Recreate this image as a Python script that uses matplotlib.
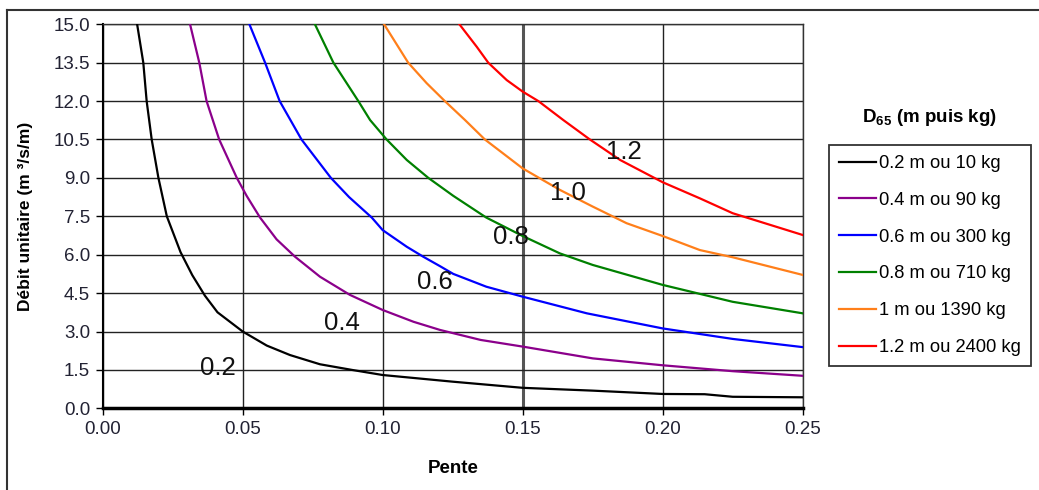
#! /usr/bin/env python

import matplotlib
matplotlib.use('Agg')
import matplotlib.pyplot as plt
import numpy as np
from matplotlib.lines import Line2D

plt.rcParams['font.family'] = ['Liberation Sans', 'DejaVu Sans']
plt.rcParams['mathtext.fontset'] = 'custom'
plt.rcParams['mathtext.rm'] = 'Liberation Sans'
plt.rcParams['mathtext.bf'] = 'Liberation Sans:bold'

# curves: pente (x) vs debit unitaire (y)
x_02 = [0.0123, 0.0145, 0.0157, 0.0175, 0.0199, 0.0229, 0.0278, 0.032, 0.0365,
        0.041, 0.050, 0.0586, 0.0669, 0.0776, 0.089, 0.100, 0.125, 0.150,
        0.175, 0.200, 0.215, 0.225, 0.250]
y_02 = [15.0, 13.5, 12.0, 10.5, 9.0, 7.5, 6.1, 5.2, 4.4,
        3.75, 3.0, 2.45, 2.08, 1.72, 1.50, 1.30, 1.04, 0.80,
        0.69, 0.56, 0.55, 0.45, 0.43]

x_04 = [0.0312, 0.0345, 0.0371, 0.0416, 0.0479, 0.0514, 0.0562, 0.0621, 0.0687,
        0.0776, 0.0883, 0.100, 0.111, 0.1205, 0.135, 0.150, 0.175, 0.200,
        0.225, 0.250]
y_04 = [15.0, 13.5, 12.0, 10.5, 9.0, 8.3, 7.45, 6.6, 5.92,
        5.14, 4.43, 3.84, 3.38, 3.06, 2.67, 2.41, 1.95, 1.68,
        1.45, 1.27]

x_06 = [0.0524, 0.058, 0.0632, 0.0710, 0.0815, 0.0880, 0.0961, 0.100, 0.1086,
        0.1145, 0.1205, 0.1252, 0.137, 0.150, 0.1729, 0.200, 0.225, 0.250]
y_06 = [15.0, 13.5, 12.0, 10.5, 9.0, 8.25, 7.45, 6.96, 6.31,
        5.92, 5.55, 5.25, 4.75, 4.36, 3.71, 3.12, 2.71, 2.39]

x_08 = [0.0758, 0.0824, 0.0913, 0.0955, 0.1014, 0.1086, 0.1163, 0.1252, 0.137,
        0.150, 0.1633, 0.175, 0.200, 0.225, 0.250]
y_08 = [15.0, 13.5, 12.0, 11.26, 10.5, 9.7, 9.0, 8.3, 7.45,
        6.73, 6.05, 5.60, 4.82, 4.16, 3.71]

x_10 = [0.1005, 0.1091, 0.1157, 0.1222, 0.1294, 0.1365, 0.150, 0.1633, 0.175,
        0.1871, 0.200, 0.2133, 0.225, 0.250]
y_10 = [15.0, 13.5, 12.7, 12.0, 11.26, 10.5, 9.37, 8.53, 7.88,
        7.23, 6.73, 6.18, 5.90, 5.21]

x_12 = [0.1274, 0.1336, 0.1377, 0.1443, 0.150, 0.1556, 0.1645, 0.174, 0.1848,
        0.200, 0.2133, 0.225, 0.250]
y_12 = [15.0, 14.12, 13.5, 12.82, 12.37, 12.0, 11.26, 10.5, 9.7,
        8.83, 8.2, 7.62, 6.77]

series = [
    (x_02, y_02, 'black', '0.2 m ou 10 kg'),
    (x_04, y_04, '#8b008b', '0.4 m ou 90 kg'),
    (x_06, y_06, '#0000ff', '0.6 m ou 300 kg'),
    (x_08, y_08, '#008000', '0.8 m ou 710 kg'),
    (x_10, y_10, '#ff7f1a', '1 m ou 1390 kg'),
    (x_12, y_12, '#ff0000', '1.2 m ou 2400 kg'),
]

# curve labels and where they sit
label_txt = ['0.2', '0.4', '0.6', '0.8', '1.0', '1.2']
label_x = [0.0412, 0.0855, 0.1187, 0.1458, 0.166, 0.186]
label_y = [1.57, 3.33, 4.93, 6.69, 8.40, 10.0]

xticks = [0.00, 0.05, 0.10, 0.15, 0.20, 0.25]
yticks = [0.0, 1.5, 3.0, 4.5, 6.0, 7.5, 9.0, 10.5, 12.0, 13.5, 15.0]

W, H = 1039, 490
figure = plt.figure(figsize=(W / 100, H / 100), dpi=100)
axes = figure.add_axes([102.7 / W, 1 - 408.3 / H, 700 / W, 384 / H])

for xs, ys, col, lab in series:
    axes.plot(xs, ys, color=col, lw=1.6, label=lab, zorder=3)

for t, lx, ly in zip(label_txt, label_x, label_y):
    axes.text(lx, ly, t, fontsize=18.5, ha='center', va='center',
              color='#111111', zorder=4)

axes.set_xlim(0, 0.25)
axes.set_ylim(0, 15)
axes.set_xticks(xticks)
axes.set_yticks(yticks)
axes.set_xticklabels(['%.2f' % v for v in xticks])
axes.set_yticklabels(['%.1f' % v for v in yticks])
axes.tick_params(labelsize=13.5, labelcolor='#222233', length=5, width=1,
                 direction='out', pad=4)
axes.grid(True, color='#222222', lw=1)
axes.set_axisbelow(True)
axes.get_xgridlines()[3].set_linewidth(2.2)
axes.get_xgridlines()[3].set_color('#555555')

for side in ['top', 'right']:
    axes.spines[side].set_linewidth(1)
    axes.spines[side].set_color('#333333')
axes.spines['left'].set_linewidth(1.5)
axes.spines['bottom'].set_linewidth(2.5)

axes.set_xlabel('Pente', fontsize=13.5, fontweight='bold', labelpad=16)
axes.set_ylabel('Débit unitaire (m ³/s/m)', fontsize=12.5, fontweight='bold')
axes.yaxis.set_label_coords(-70 / 700, 0.5)

handles = [Line2D([0], [0], color=c, lw=1.6) for _, _, c, _ in series]
labels = [lab for _, _, _, lab in series]
leg = figure.legend(handles, labels, loc='upper left',
                    bbox_to_anchor=(829 / W, 1 - 145 / H), fontsize=13.2,
                    frameon=True, fancybox=False, edgecolor='black',
                    handlelength=2.0, handletextpad=0.2, labelspacing=1.08,
                    borderpad=0.55, borderaxespad=0)
leg.get_frame().set_linewidth(1.3)

figure.text(930 / W, 1 - 118 / H, r'D$_{\mathbf{65}}$ (m puis kg)',
            fontsize=13.5, fontweight='bold', ha='center', va='center')

# outer frame (top and left only visible)
figure.add_artist(Line2D([7 / W, 1], [1 - 10 / H, 1 - 10 / H], color='#333333',
                         lw=1.5, transform=figure.transFigure))
figure.add_artist(Line2D([7 / W, 7 / W], [0, 1 - 10 / H], color='#333333',
                         lw=1.5, transform=figure.transFigure))

figure.savefig('out.png', dpi=100)
plt.close()
